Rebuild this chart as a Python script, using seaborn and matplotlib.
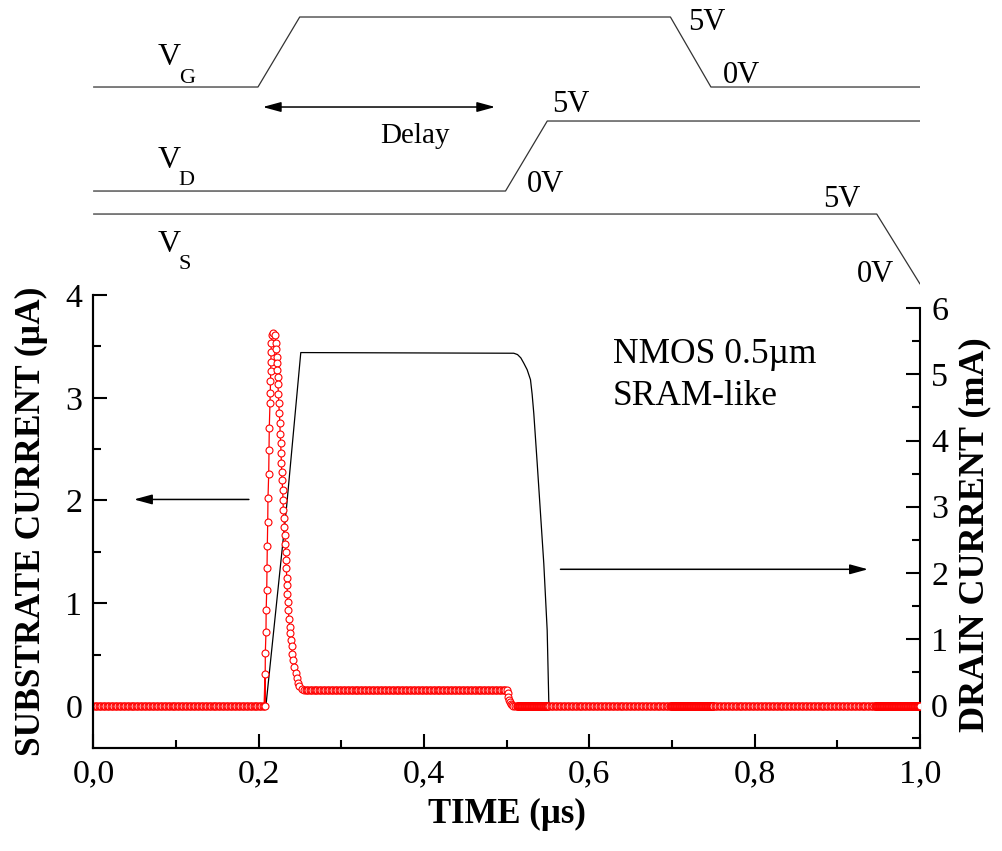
import numpy as np
import pandas as pd
import matplotlib
matplotlib.use('Agg')
import matplotlib.pyplot as plt
import seaborn as sns
from matplotlib.ticker import MultipleLocator, FuncFormatter

# drain current (mA) - black line, right axis
drain_t = [0.0, 0.2087, 0.2337, 0.2508, 0.5085, 0.5130, 0.5170, 0.5206,
           0.5247, 0.5287, 0.5307, 0.5327, 0.5368, 0.5408, 0.5448, 0.5489,
           0.5508, 0.5512, 1.0]
drain_ma = [0.0, 0.0, 3.01, 5.33, 5.32, 5.30, 5.25, 5.17,
            5.07, 4.92, 4.70, 4.41, 3.66, 2.90, 2.14, 1.13,
            0.08, 0.0, 0.0]

# substrate current (uA) around the gate edge, read point by point
peak_t = [0.2075, 0.2075, 0.2079, 0.2087, 0.2089, 0.2096, 0.2099, 0.2103,
          0.2108, 0.2111, 0.2120, 0.2123, 0.2127, 0.2136, 0.2139, 0.2141,
          0.2144, 0.2146, 0.2148, 0.2151, 0.2160, 0.2175,
          0.2196, 0.2208, 0.2210, 0.2217, 0.2219, 0.2224, 0.2229, 0.2232,
          0.2236, 0.2241, 0.2248, 0.2256, 0.2258, 0.2265, 0.2269, 0.2272,
          0.2277, 0.2281, 0.2289, 0.2293, 0.2297, 0.2305, 0.2309, 0.2317,
          0.2321, 0.2325, 0.2329, 0.2333, 0.2338, 0.2341, 0.2345, 0.2350,
          0.2357, 0.2365, 0.2374, 0.2377, 0.2390, 0.2398, 0.2405, 0.2417,
          0.2430, 0.2446, 0.2459, 0.2471, 0.2490, 0.2519]
peak_ua = [0.00, 0.31, 0.52, 0.72, 0.93, 1.13, 1.34, 1.56,
           1.79, 2.02, 2.26, 2.49, 2.71, 2.95, 3.05, 3.16,
           3.26, 3.35, 3.45, 3.53, 3.61, 3.63,
           3.61, 3.53, 3.47, 3.40, 3.34, 3.27, 3.20, 3.13,
           3.04, 2.95, 2.85, 2.75, 2.65, 2.56, 2.46, 2.36,
           2.28, 2.20, 2.10, 2.00, 1.91, 1.83, 1.74, 1.66,
           1.58, 1.50, 1.42, 1.34, 1.25, 1.18, 1.09, 1.01,
           0.93, 0.85, 0.77, 0.71, 0.64, 0.58, 0.51, 0.45,
           0.38, 0.32, 0.27, 0.22, 0.19, 0.16]

# drain turn-on edge of the substrate current
drop_t = [0.5000, 0.5010, 0.5019, 0.5029, 0.5039, 0.5050, 0.5060, 0.5080, 0.5100]
drop_ua = [0.153, 0.125, 0.088, 0.062, 0.040, 0.020, 0.007, 0.002, 0.0]

# flat stretches of substrate current: start, end, level, simulator step
flat_start = [0.0, 0.2550, 0.5120, 0.5500, 0.6980, 0.7500, 0.9450]
flat_end = [0.2070, 0.4990, 0.5500, 0.6980, 0.7500, 0.9450, 1.0001]
flat_level = [0.0, 0.155, 0.0, 0.0, 0.0, 0.0, 0.0]
flat_step = [0.0016, 0.0016, 0.0005, 0.0016, 0.0005, 0.0016, 0.0005]

# input waveforms (time in us, volts)
vg_t = [0.0, 0.199, 0.2495, 0.698, 0.747, 1.0]
vg_v = [0, 0, 5, 5, 0, 0]
vd_t = [0.0, 0.4985, 0.549, 1.0]
vd_v = [0, 0, 5, 5]
vs_t = [0.0, 0.9476, 1.0]
vs_v = [5, 5, 0]

sns.set_theme(style='ticks')
plt.rcParams['font.family'] = ['Liberation Serif', 'DejaVu Serif']
plt.rcParams.update({'axes.linewidth': 1.5, 'text.color': 'black',
                     'axes.labelcolor': 'black', 'axes.edgecolor': 'black',
                     'xtick.color': 'black', 'ytick.color': 'black'})

# build substrate current series
ts, vs = list(peak_t), list(peak_ua)
ts += drop_t
vs += drop_ua
for a, b, lev, st in zip(flat_start, flat_end, flat_level, flat_step):
    tt = np.arange(a, b, st)
    ts += list(tt)
    vs += [lev] * len(tt)
sub = pd.DataFrame({'t': ts, 'ua': vs}).sort_values('t')
drain = pd.DataFrame({'t': drain_t, 'ma': drain_ma})

fig = plt.figure(figsize=(10.02, 8.51), dpi=100)
ax = fig.add_axes([0.0933, 0.1210, 0.8249, 0.5323])
ax2 = ax.twinx()

sns.lineplot(data=drain, x='t', y='ma', ax=ax2, color='black', lw=0.9,
             estimator=None, sort=False)
sns.lineplot(data=sub, x='t', y='ua', ax=ax, color='red', lw=0.9,
             marker='o', markersize=5, markerfacecolor='white',
             markeredgecolor='red', markeredgewidth=0.8,
             estimator=None, sort=False)
ax.set_zorder(ax2.get_zorder() + 1)
ax.patch.set_visible(False)

ax.set_xlim(0, 1.0)
ax.set_ylim(-0.41, 4.0)
ax2.set_ylim(-0.65, 6.2)

comma = FuncFormatter(lambda v, _: f'{v:.1f}'.replace('.', ','))
ax.xaxis.set_major_locator(MultipleLocator(0.2))
ax.xaxis.set_minor_locator(MultipleLocator(0.1))
ax.xaxis.set_major_formatter(comma)
ax.yaxis.set_major_locator(MultipleLocator(1))
ax.yaxis.set_minor_locator(MultipleLocator(0.5))
ax2.yaxis.set_major_locator(MultipleLocator(1))
ax2.yaxis.set_minor_locator(MultipleLocator(0.5))
ax2.yaxis.set_major_formatter(FuncFormatter(lambda v, _: f'{v:.0f}'))

for a in (ax, ax2):
    a.tick_params(which='major', direction='in', length=10, width=1.5,
                  labelsize=24.5, pad=8)
    a.tick_params(which='minor', direction='in', length=6, width=1.5)
    a.spines['top'].set_visible(False)
ax.spines['right'].set_visible(False)
ax2.spines['right'].set_bounds(-0.65, 6)

ax.set_xlabel('TIME (µs)', fontsize=25, fontweight='bold', labelpad=6)
ax.set_ylabel('SUBSTRATE CURRENT (µA)', fontsize=25.5, fontweight='bold')
ax2.set_ylabel('DRAIN CURRENT (mA)', fontsize=26, fontweight='bold',
               rotation=90)
ax.yaxis.set_label_coords(-0.055, 0.5)
ax2.yaxis.set_label_coords(1.046, 0.47)

ax.text(0.628, 3.34, 'NMOS 0.5µm', fontsize=25.5)
ax.text(0.628, 2.93, 'SRAM-like', fontsize=25.5)

arrow = dict(arrowstyle='-|>,head_length=0.55,head_width=0.15',
             color='black', lw=1.1, mutation_scale=20, shrinkA=0, shrinkB=0)
ax.annotate('', xy=(0.049, 2.01), xytext=(0.188, 2.01), arrowprops=arrow)
ax.annotate('', xy=(0.937, 1.33), xytext=(0.565, 1.33), arrowprops=arrow)

# timing diagram above the plot, y in pixels from the top
top = fig.add_axes([0.0933, 0.6533, 0.8249, 0.3467])
top.set_xlim(0, 1.0)
top.set_ylim(295, 0)
top.axis('off')
px_per_volt = 14
for t, v, base in ((vg_t, vg_v, 87), (vd_t, vd_v, 191), (vs_t, vs_v, 284)):
    w = pd.DataFrame({'t': t, 'y': [base - px_per_volt * x for x in v]})
    sns.lineplot(data=w, x='t', y='y', ax=top, color='0.2', lw=0.9,
                 estimator=None, sort=False)

for name, sub_y, base in (('G', 83, 65), ('D', 185, 168), ('S', 269, 252)):
    top.text(0.0776, base, 'V', fontsize=23, va='baseline')
    top.text(0.1033, sub_y, name, fontsize=16, va='baseline')

for lab, x, y in (('5V', 0.720, 30), ('0V', 0.7616, 83), ('5V', 0.5549, 112),
                  ('0V', 0.5239, 192), ('5V', 0.8832, 207), ('0V', 0.9235, 282)):
    top.text(x, y, lab, fontsize=22, va='baseline')

top.annotate('', xy=(0.2048, 107), xytext=(0.486, 107),
             arrowprops=dict(arrowstyle='<|-|>,head_length=0.55,head_width=0.15',
                             color='black', lw=1.1, mutation_scale=20,
                             shrinkA=0, shrinkB=0))
top.text(0.389, 143, 'Delay', fontsize=21, ha='center', va='baseline')

fig.savefig('out.png', dpi=100)
